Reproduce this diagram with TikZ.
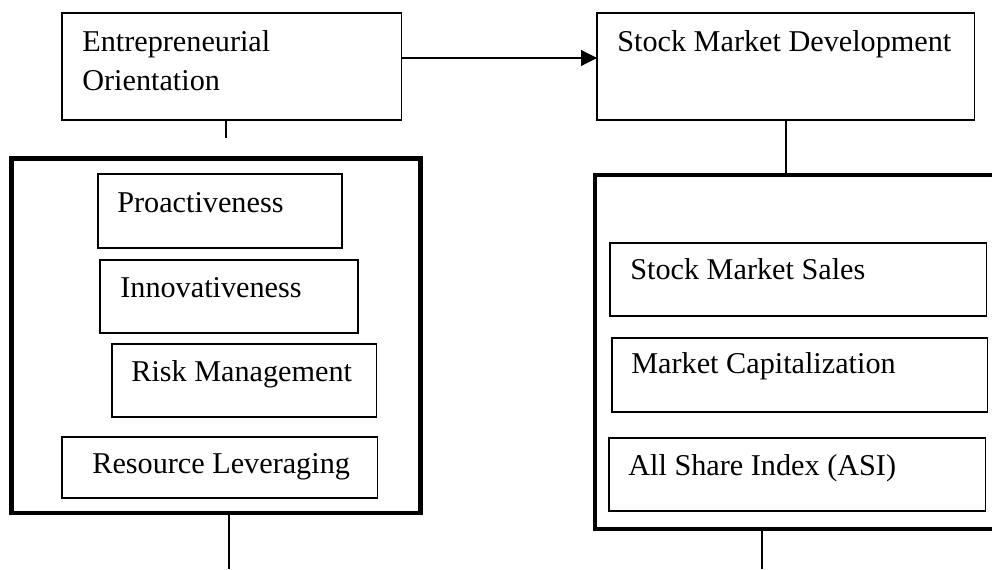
\documentclass[tikz,border=0pt]{standalone}
\usepackage{fontspec}
\setmainfont{Liberation Serif}
\usetikzlibrary{arrows.meta,calc}

\tikzset{
  caja/.style={draw, rectangle, line width=0.022cm, inner sep=0, outer sep=0, anchor=north west},
  marco/.style={draw, rectangle, line width=0.09cm, inner sep=0, outer sep=0, anchor=north west},
  texto/.style={inner sep=0, anchor=base west, font=\fontsize{17.2}{22.2}\selectfont},
  linea/.style={line width=0.022cm},
}

\begin{document}
\begin{tikzpicture}[x=0.02cm, y=-0.02cm]
            \useasboundingbox (0,0) rectangle (992,569);
            \clip (0,0) rectangle (992,569);

            % Variables principales
            \node[caja, minimum width=6.8cm, minimum height=2.14cm] (eo) at (62,13) {};
            \node[texto, anchor=north west, align=left] (eoT) at (82,30) {Entrepreneurial\\Orientation};
            \node[caja, minimum width=7.56cm, minimum height=2.14cm] (smd) at (597,13) {};
            \node[texto] (smdT) at ($(smd.north west)+(20,38)$) {Stock Market Development};

            % Marcos gruesos
            \node[marco, minimum width=8.18cm, minimum height=7.09cm] (marcoIzq) at (11.5,158.5) {};
            \node[marco, minimum width=8.2cm, minimum height=7.08cm] (marcoDer) at (595,175) {};

            % Dimensiones de la orientacion emprendedora
            \node[caja, minimum width=4.88cm, minimum height=1.48cm] (pro) at (98,174) {};
            \node[texto] (proT) at ($(pro.north west)+(19,38)$) {Proactiveness};
            \node[caja, minimum width=5.16cm, minimum height=1.46cm] (inn) at (100,260) {};
            \node[texto] (innT) at ($(inn.north west)+(20,37)$) {Innovativeness};
            \node[caja, minimum width=5.3cm, minimum height=1.46cm] (risk) at (112,344) {};
            \node[texto] (riskT) at ($(risk.north west)+(19,37)$) {Risk Management};
            \node[caja, minimum width=6.32cm, minimum height=1.22cm] (res) at (62,437) {};
            \node[texto] (resT) at ($(res.north west)+(30,36)$) {Resource Leveraging};

            % Indicadores del mercado de valores
            \node[caja, minimum width=7.54cm, minimum height=1.46cm] (sales) at (610,243) {};
            \node[texto] (salesT) at ($(sales.north west)+(20,36)$) {Stock Market Sales};
            \node[caja, minimum width=7.52cm, minimum height=1.48cm] (cap) at (612,338) {};
            \node[texto] (capT) at ($(cap.north west)+(19,35)$) {Market Capitalization};
            \node[caja, minimum width=7.54cm, minimum height=1.46cm] (asi) at (609,438) {};
            \node[texto] (asiT) at ($(asi.north west)+(19,37)$) {All Share Index (ASI)};

            % Conectores
            \draw[linea, -{Triangle[length=0.32cm, width=0.32cm]}] ([yshift=0.17cm]eo.east) -- ([yshift=0.17cm]smd.west);
            \coordinate (eoPie) at (226,138);
            \draw[linea] (eo.south -| eoPie) -- (eoPie);
            \draw[linea] (smd.south) -- (smd.south |- marcoDer.north);
            \coordinate (izqPie) at (229,569);
            \draw[linea] (marcoIzq.south -| izqPie) -- (izqPie);
            \coordinate (derPie) at (762,569);
            \draw[linea] (marcoDer.south -| derPie) -- (derPie);
        \end{tikzpicture}
\end{document}
